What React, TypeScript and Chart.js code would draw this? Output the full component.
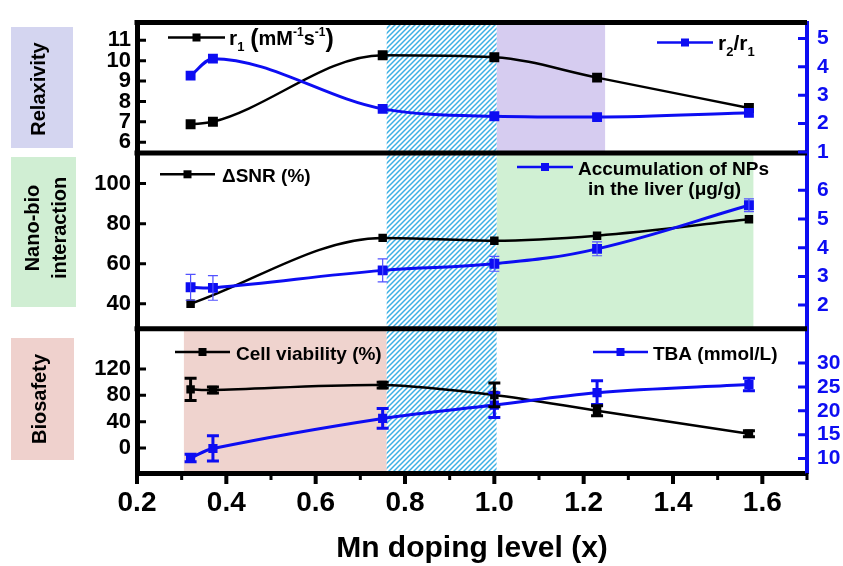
import React, { useEffect, useRef } from 'react';
import { Chart, registerables } from 'chart.js';

Chart.register(...registerables);

// ---------- data ----------
const xLevels = [0.32, 0.37, 0.75, 1.0, 1.23, 1.57];
const r1Values = [6.88, 7.0, 10.27, 10.17, 9.17, 7.68];
const r2r1Values = [3.69, 4.29, 2.52, 2.26, 2.23, 2.38];

const snrLevels = [0.32, 0.75, 1.0, 1.23, 1.57];
const snrValues = [40, 72.9, 71.5, 74, 82.2];
const liverValues = [2.62, 2.6, 3.21, 3.44, 3.96, 5.48];
const liverErrors = [0.45, 0.43, 0.4, 0.26, 0.24, 0.22];

const viabilityValues = [89, 88, 95.5, 80.5, 56.5, 21.6];
const viabilityErrors = [16.8, 4.5, 4.5, 18, 7.5, 4.5];
const tbaValues = [10.1, 12.1, 18.4, 21.2, 23.8, 25.5];
const tbaErrors = [0.8, 2.65, 2.07, 2.6, 2.5, 1.3];

// axis ticks
const relaxLeftTicks = [6, 7, 8, 9, 10, 11];
const relaxRightTicks = [1, 2, 3, 4, 5];
const nanoLeftTicks = [40, 60, 80, 100];
const nanoRightTicks = [2, 3, 4, 5, 6];
const bioLeftTicks = [0, 40, 80, 120];
const bioRightTicks = [10, 15, 20, 25, 30];

// shaded x-bands
const hatchBand = [0.759, 1.005];
const relaxBand = [1.005, 1.248];
const nanoBand = [1.005, 1.58];
const bioBand = [0.305, 0.759];

const BLUE = '#0d0df2';
const FAMILY = '"Liberation Sans", Arial, sans-serif';

type Seg = { t: string; size: number; dy?: number };

function drawRich(ctx: CanvasRenderingContext2D, x: number, y: number, segs: Seg[], color: string) {
  ctx.textAlign = 'left';
  ctx.textBaseline = 'alphabetic';
  ctx.fillStyle = color;
  let cx = x;
  for (const s of segs) {
    ctx.font = `bold ${s.size}px ${FAMILY}`;
    ctx.fillText(s.t, cx, y + (s.dy || 0));
    cx += ctx.measureText(s.t).width;
  }
}

function legendGlyph(ctx: CanvasRenderingContext2D, x0: number, x1: number, y: number, color: string) {
  ctx.strokeStyle = color;
  ctx.lineWidth = 2.5;
  ctx.beginPath();
  ctx.moveTo(x0, y);
  ctx.lineTo(x1, y);
  ctx.stroke();
  ctx.fillStyle = color;
  const m = (x0 + x1) / 2;
  ctx.fillRect(m - 4, y - 4, 8, 8);
}

function rotatedLabel(ctx: CanvasRenderingContext2D, lines: { t: string; x: number }[], cy: number, size: number) {
  ctx.fillStyle = '#000';
  ctx.font = `bold ${size}px ${FAMILY}`;
  ctx.textAlign = 'center';
  ctx.textBaseline = 'alphabetic';
  for (const l of lines) {
    ctx.save();
    ctx.translate(l.x, cy);
    ctx.rotate(-Math.PI / 2);
    ctx.fillText(l.t, 0, 0);
    ctx.restore();
  }
}

function makeHatch(ctx: CanvasRenderingContext2D) {
  const c = document.createElement('canvas');
  const s = 5;
  c.width = s;
  c.height = s;
  const p = c.getContext('2d')!;
  p.fillStyle = '#ffffff';
  p.fillRect(0, 0, s, s);
  p.strokeStyle = '#3cb0e4';
  p.lineWidth = 1.5;
  p.beginPath();
  p.moveTo(-1, s + 1);
  p.lineTo(s + 1, -1);
  p.moveTo(-1, 1);
  p.lineTo(1, -1);
  p.moveTo(s - 1, s + 1);
  p.lineTo(s + 1, s - 1);
  p.stroke();
  return ctx.createPattern(c, 'repeat')!;
}

const errorSpecs = [
  { ds: 2, errs: liverErrors, color: '#5252ff', width: 1.2, cap: 5 },
  { ds: 4, errs: tbaErrors, color: BLUE, width: 3, cap: 6 },
  { ds: 5, errs: viabilityErrors, color: '#000', width: 3, cap: 6 },
];

const panelPlugin = {
  id: 'panelPlugin',
  beforeDraw(chart: any) {
    const { ctx, scales, chartArea } = chart;
    const px = (v: number) => scales.x.getPixelForValue(v);
    ctx.save();
    ctx.fillStyle = '#ffffff';
    ctx.fillRect(0, 0, chart.width, chart.height);

    // left category boxes
    ctx.fillStyle = '#d4d5f0';
    ctx.fillRect(11, 27, 62, 121);
    ctx.fillStyle = '#d0eed3';
    ctx.fillRect(11, 157, 65, 150);
    ctx.fillStyle = '#efd1cd';
    ctx.fillRect(11, 338, 63, 122);
    rotatedLabel(ctx, [{ t: 'Relaxivity', x: 45 }], 89, 20);
    rotatedLabel(ctx, [{ t: 'Nano-bio', x: 38.5 }, { t: 'interaction', x: 66 }], 228, 20);
    rotatedLabel(ctx, [{ t: 'Biosafety', x: 46 }], 399, 20);

    const band = (b: number[], id: string, color: string) => {
      const s = scales[id];
      ctx.fillStyle = color;
      ctx.fillRect(px(b[0]), s.top, px(b[1]) - px(b[0]), s.bottom - s.top);
    };
    band(relaxBand, 'yRelax', '#d6ccf0');
    band(nanoBand, 'yNano', '#d0f0d3');
    band(bioBand, 'yBio', '#efd3ce');

    ctx.fillStyle = makeHatch(ctx);
    ctx.fillRect(px(hatchBand[0]), chartArea.top, px(hatchBand[1]) - px(hatchBand[0]), chartArea.bottom - chartArea.top);
    ctx.restore();
  },
  afterDatasetsDraw(chart: any) {
    const { ctx } = chart;
    ctx.save();
    for (const spec of errorSpecs) {
      const meta = chart.getDatasetMeta(spec.ds);
      const scale = chart.scales[meta.yAxisID];
      const data = chart.data.datasets[spec.ds].data as { x: number; y: number }[];
      ctx.strokeStyle = spec.color;
      ctx.lineWidth = spec.width;
      data.forEach((d, i) => {
        const x = meta.data[i].x;
        const yt = scale.getPixelForValue(d.y + spec.errs[i]);
        const yb = scale.getPixelForValue(d.y - spec.errs[i]);
        ctx.beginPath();
        ctx.moveTo(x, yt);
        ctx.lineTo(x, yb);
        ctx.moveTo(x - spec.cap, yt);
        ctx.lineTo(x + spec.cap, yt);
        ctx.moveTo(x - spec.cap, yb);
        ctx.lineTo(x + spec.cap, yb);
        ctx.stroke();
      });
    }
    ctx.restore();
  },
  afterDraw(chart: any) {
    const { ctx, scales, chartArea } = chart;
    ctx.save();
    // panel separators + top frame
    ctx.strokeStyle = '#000';
    ctx.lineWidth = 5;
    ctx.beginPath();
    for (const y of [scales.yRelax.top, scales.yRelax.bottom, scales.yNano.bottom]) {
      ctx.moveTo(chartArea.left - 2.5, y);
      ctx.lineTo(chartArea.right, y);
    }
    ctx.stroke();

    // inward y ticks
    const yTicks = (id: string, side: 'left' | 'right', color: string) => {
      const s = scales[id];
      ctx.strokeStyle = color;
      ctx.lineWidth = 3;
      ctx.beginPath();
      for (const t of s.ticks) {
        const y = s.getPixelForValue(t.value);
        if (side === 'left') {
          ctx.moveTo(chartArea.left, y);
          ctx.lineTo(chartArea.left + 9, y);
        } else {
          ctx.moveTo(chartArea.right, y);
          ctx.lineTo(chartArea.right - 9, y);
        }
      }
      ctx.stroke();
    };
    yTicks('yRelax', 'left', '#000');
    yTicks('yNano', 'left', '#000');
    yTicks('yBio', 'left', '#000');
    yTicks('yRelaxR', 'right', BLUE);
    yTicks('yNanoR', 'right', BLUE);
    yTicks('yBioR', 'right', BLUE);

    // x ticks (outward, major / minor)
    const sx = scales.x;
    ctx.strokeStyle = '#000';
    for (const t of sx.ticks) {
      const major = Math.round(t.value * 10) % 2 === 0;
      const x = sx.getPixelForValue(t.value);
      ctx.lineWidth = major ? 4 : 3;
      ctx.beginPath();
      ctx.moveTo(x, chartArea.bottom);
      ctx.lineTo(x, chartArea.bottom + (major ? 11 : 7));
      ctx.stroke();
    }

    // legends
    legendGlyph(ctx, 168, 225, 37.5, '#000');
    drawRich(ctx, 229, 45, [
      { t: 'r', size: 21 }, { t: '1', size: 13, dy: 6 }, { t: ' ', size: 21 },
      { t: '(', size: 25, dy: 2 }, { t: 'mM', size: 20 }, { t: '-1', size: 12, dy: -9 },
      { t: 's', size: 20 }, { t: '-1', size: 12, dy: -9 }, { t: ')', size: 25, dy: 2 },
    ], '#000');
    legendGlyph(ctx, 657, 713, 42.5, BLUE);
    drawRich(ctx, 718, 50, [
      { t: 'r', size: 21 }, { t: '2', size: 13, dy: 6 }, { t: '/', size: 21 },
      { t: 'r', size: 21 }, { t: '1', size: 13, dy: 6 },
    ], '#000');

    legendGlyph(ctx, 160, 215, 174.3, '#000');
    drawRich(ctx, 222, 181.5, [{ t: '\u0394SNR (%)', size: 19 }], '#000');
    legendGlyph(ctx, 517, 573, 167, BLUE);
    drawRich(ctx, 578, 174.5, [{ t: 'Accumulation of NPs', size: 19 }], '#000');
    drawRich(ctx, 588, 195, [{ t: 'in the liver (\u03bcg/g)', size: 19 }], '#000');

    legendGlyph(ctx, 175, 230, 352, '#000');
    drawRich(ctx, 236, 359.5, [{ t: 'Cell viability (%)', size: 19 }], '#000');
    legendGlyph(ctx, 593, 648, 352, BLUE);
    drawRich(ctx, 653, 359.5, [{ t: 'TBA (mmol/L)', size: 19 }], '#000');
    ctx.restore();
  },
};

function pts(xs: number[], ys: number[]) {
  return xs.map((x, i) => ({ x, y: ys[i] }));
}

function yAxis(opts: {
  side: 'left' | 'right';
  weight: number;
  stackWeight: number;
  min: number;
  max: number;
  ticks: number[];
}) {
  const color = opts.side === 'left' ? '#000' : BLUE;
  return {
    type: 'linear',
    position: opts.side,
    stack: opts.side,
    stackWeight: opts.stackWeight,
    weight: opts.weight,
    min: opts.min,
    max: opts.max,
    afterBuildTicks: (s: any) => {
      s.ticks = opts.ticks.map((v) => ({ value: v }));
    },
    afterFit: (s: any) => {
      s.width = opts.side === 'left' ? 137 : 36;
    },
    ticks: {
      autoSkip: false,
      color,
      padding: opts.side === 'left' ? 6 : 10,
      font: { family: FAMILY, weight: 'bold', size: opts.side === 'left' ? 22 : 21 },
    },
    grid: { drawOnChartArea: false, drawTicks: false },
    border: { color, width: opts.side === 'left' ? 5 : 4, z: 1 },
  };
}

export default function App() {
  const ref = useRef<HTMLCanvasElement>(null);

  useEffect(() => {
    const canvas = ref.current;
    if (!canvas) return;
    const lineDs = (label: string, data: any[], axis: string, color: string, order: number, radius: number, width: number, tension: number, mode: string) => ({
      label,
      data,
      yAxisID: axis,
      borderColor: color,
      backgroundColor: color,
      borderWidth: width,
      pointStyle: 'rect',
      pointRadius: radius,
      pointBorderWidth: 0,
      tension,
      cubicInterpolationMode: mode,
      order,
    });
    const chart = new Chart(canvas, {
      type: 'line',
      data: {
        datasets: [
          lineDs('r2/r1', pts(xLevels, r2r1Values), 'yRelaxR', BLUE, 0, 7, 3, 0.4, 'monotone'),
          lineDs('r1 (mM-1s-1)', pts(xLevels, r1Values), 'yRelax', '#000', 1, 7, 2.5, 0.4, 'monotone'),
          lineDs('Accumulation of NPs in the liver (μg/g)', pts(xLevels, liverValues), 'yNanoR', BLUE, 0, 7, 3, 0.4, 'default'),
          lineDs('ΔSNR (%)', pts(snrLevels, snrValues), 'yNano', '#000', 1, 6, 2.5, 0.4, 'monotone'),
          lineDs('TBA (mmol/L)', pts(xLevels, tbaValues), 'yBioR', BLUE, 0, 6.5, 3, 0.35, 'default'),
          lineDs('Cell viability (%)', pts(xLevels, viabilityValues), 'yBio', '#000', 1, 6, 2.5, 0.3, 'default'),
        ] as any,
      },
      options: {
        responsive: false,
        animation: false,
        devicePixelRatio: 1,
        layout: { padding: { top: 17, left: 0, right: 0, bottom: 0 } },
        plugins: { legend: { display: false }, tooltip: { enabled: false } },
        scales: {
          x: {
            type: 'linear',
            position: 'bottom',
            min: 0.2,
            max: 1.7,
            afterFit: (s: any) => {
              s.height = 93;
            },
            ticks: {
              stepSize: 0.1,
              autoSkip: false,
              maxRotation: 0,
              color: '#000',
              padding: 13,
              font: { family: FAMILY, weight: 'bold', size: 28 },
              callback: (v: any) => (Math.round(Number(v) * 10) % 2 === 0 ? Number(v).toFixed(1) : ''),
            },
            grid: { drawOnChartArea: false, drawTicks: false },
            border: { color: '#000', width: 5, z: 1 },
            title: {
              display: true,
              text: 'Mn doping level (x)',
              color: '#000',
              font: { family: FAMILY, weight: 'bold', size: 30, lineHeight: 1 },
              padding: { top: 0, bottom: 2 },
            },
          },
          yRelax: yAxis({ side: 'left', weight: 3, stackWeight: 132, min: 5.47, max: 11.87, ticks: relaxLeftTicks }),
          yNano: yAxis({ side: 'left', weight: 2, stackWeight: 178, min: 27.5, max: 115.3, ticks: nanoLeftTicks }),
          yBio: yAxis({ side: 'left', weight: 1, stackWeight: 146, min: -38, max: 181, ticks: bioLeftTicks }),
          yRelaxR: yAxis({ side: 'right', weight: 1, stackWeight: 132, min: 0.965, max: 5.56, ticks: relaxRightTicks }),
          yNanoR: yAxis({ side: 'right', weight: 2, stackWeight: 178, min: 1.175, max: 7.3, ticks: nanoRightTicks }),
          yBioR: yAxis({ side: 'right', weight: 3, stackWeight: 146, min: 6.96, max: 37.18, ticks: bioRightTicks }),
        } as any,
      },
      plugins: [panelPlugin as any],
    });
    return () => chart.destroy();
  }, []);

  return (
    <div style={{ position: 'fixed', left: 0, top: 0, width: 843, height: 566, background: '#fff' }}>
      <canvas ref={ref} width={843} height={566} style={{ display: 'block', width: 843, height: 566 }} />
    </div>
  );
}
